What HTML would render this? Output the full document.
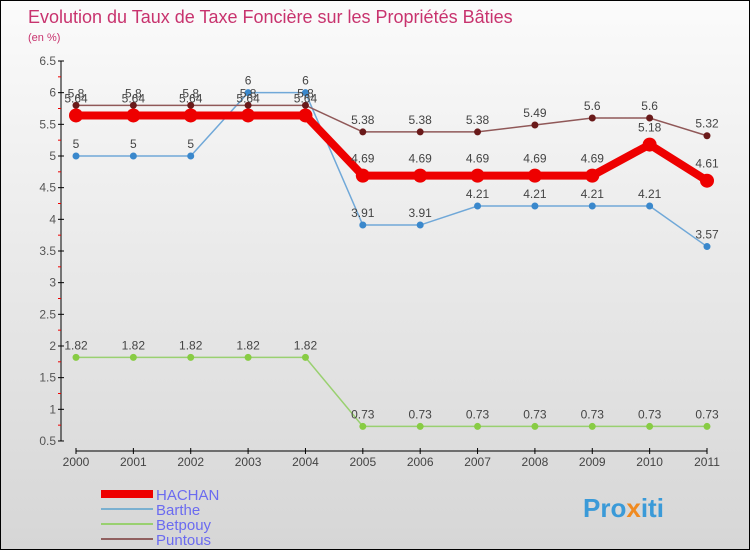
<!DOCTYPE html>
<html><head><meta charset="utf-8"><style>
body{margin:0}
#c{position:relative;width:748px;height:548px;border:1px solid #000;background:linear-gradient(#fbfbfb,#d6d6d6);font-family:"Liberation Sans",sans-serif;overflow:hidden}
</style></head><body>
<div id="c">
<svg id="s" width="748" height="548" xmlns="http://www.w3.org/2000/svg">
<text x="27" y="22" font-size="18" fill="#c8336e">Evolution du Taux de Taxe Foncière sur les Propriétés Bâties</text>
<text x="27" y="40" font-size="11" fill="#c8336e">(en %)</text>
<g id="axes"></g><g id="series"></g>
<g>
<rect x="100" y="489" width="52" height="8" fill="#e00"/>
<text x="155" y="499" font-size="15" fill="#6b6bf0">HACHAN</text>
<rect x="100" y="507" width="52" height="2" fill="#7ab0d0"/>
<text x="155" y="514" font-size="15" fill="#6b6bf0">Barthe</text>
<rect x="100" y="522" width="52" height="2" fill="#99d070"/>
<text x="155" y="529" font-size="15" fill="#6b6bf0">Betpouy</text>
<rect x="100" y="537" width="52" height="2" fill="#906060"/>
<text x="155" y="544" font-size="15" fill="#6b6bf0">Puntous</text>
</g>
<text x="582" y="516" font-size="26" font-weight="bold" fill="#3a9ad8">Pro<tspan fill="#f08a20">x</tspan>iti</text>
</svg></div>
<script>
const years=["2000","2001","2002","2003","2004","2005","2006","2007","2008","2009","2010","2011"];
const yTicks=[0.5,1,1.5,2,2.5,3,3.5,4,4.5,5,5.5,6,6.5];
const hachan=[5.64,5.64,5.64,5.64,5.64,4.69,4.69,4.69,4.69,4.69,5.18,4.61];
const barthe=[5,5,5,6,6,3.91,3.91,4.21,4.21,4.21,4.21,3.57];
const betpouy=[1.82,1.82,1.82,1.82,1.82,0.73,0.73,0.73,0.73,0.73,0.73,0.73];
const puntous=[5.8,5.8,5.8,5.8,5.8,5.38,5.38,5.38,5.49,5.6,5.6,5.32];
const NS="http://www.w3.org/2000/svg";
const X=i=>75+i*(706-75)/(years.length-1);
const Y=v=>60+(6.5-v)*63.33;
function el(t,a,p){const e=document.createElementNS(NS,t);for(const k in a)e.setAttribute(k,a[k]);p.appendChild(e);return e;}
const ax=document.getElementById('axes');
const yl=el('line',{x1:60,y1:60,x2:60,y2:440,stroke:'#000','stroke-width':1},ax);


yTicks.forEach(v=>{
 el('line',{x1:57,y1:Y(v),x2:63,y2:Y(v),stroke:'#000'},ax);
 el('line',{x1:57,y1:Y(v+0.25),x2:60,y2:Y(v+0.25),stroke:v<6.5?'#e00':'none'},ax);
 const t=el('text',{x:55,y:Y(v)+4,'font-size':12,fill:'#555','text-anchor':'end'},ax);t.textContent=String(v);
 
 
});
const xl=el('line',{x1:75,y1:450,x2:706,y2:450,stroke:'#000'},ax);


years.forEach((y,i)=>{
 el('line',{x1:X(i),y1:447,x2:X(i),y2:453,stroke:'#000'},ax);
 const t=el('text',{x:X(i),y:465,'font-size':12,fill:'#444','text-anchor':'middle'},ax);t.textContent=y;
 
 
});
const sg=document.getElementById('series');
function series(name,data,color,w,r,fill,dy){
 const g=el('g',{},sg);
 
 
 el('polyline',{points:data.map((v,i)=>X(i)+','+Y(v)).join(' '),fill:'none',stroke:color,'stroke-width':w},g);
 data.forEach((v,i)=>{
  const c=el('circle',{cx:X(i),cy:Y(v),r:r,fill:fill},g);
  
  
  const t=el('text',{x:X(i),y:Y(v)+dy,'font-size':12,fill:'#444','text-anchor':'middle'},g);t.textContent=String(v);
  
  
 });
}
series('betpouy',betpouy,'#99d070',1.5,3.5,'#88cc44',-8);
series('barthe',barthe,'#70a8d8',1.5,3.5,'#3a88cc',-8);
series('puntous',puntous,'#905858',1.5,3.5,'#6a1a1a',-8);
series('hachan',hachan,'#ee0000',8,7,'#ee0000',-13);
</script>
</body></html>
